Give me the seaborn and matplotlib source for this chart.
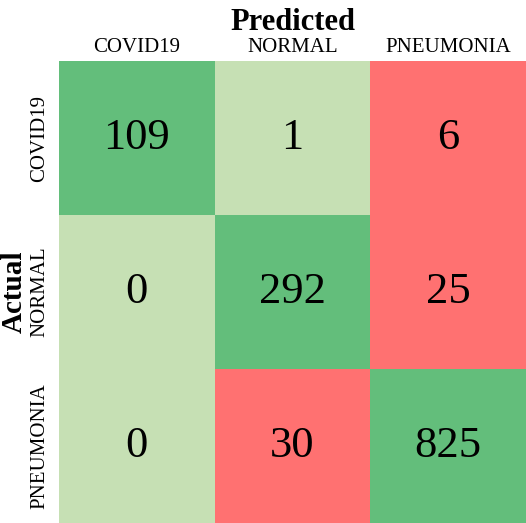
import numpy as np
import seaborn as sns
import matplotlib.pyplot as plt
from matplotlib.colors import ListedColormap

classes = ["COVID19", "NORMAL", "PNEUMONIA"]
covid_row = [109, 1, 6]
normal_row = [0, 292, 25]
pneumonia_row = [0, 30, 825]


def confusion_plot():
    counts = np.array([covid_row, normal_row, pneumonia_row])
    # 0 = negligible miss, 1 = miss, 2 = correct
    shade = np.where(counts <= 1, 0, 1)
    np.fill_diagonal(shade, 2)

    sns.set_theme(style="white")
    plt.rcParams["font.family"] = ["Liberation Serif", "DejaVu Serif"]
    plt.rcParams["text.color"] = "black"
    plt.rcParams["axes.labelcolor"] = "black"
    plt.rcParams["xtick.color"] = "black"
    plt.rcParams["ytick.color"] = "black"
    cmap = ListedColormap(["#C6E0B4", "#FF7171", "#63BE7B"])

    fig = plt.figure(figsize=(5.26, 5.23), dpi=100)
    ax = fig.add_axes([59 / 526, 0, 1 - 59 / 526, 462 / 523])
    sns.heatmap(shade, annot=counts, fmt="d", cmap=cmap, vmin=-0.5, vmax=2.5,
                cbar=False, xticklabels=classes, yticklabels=classes,
                annot_kws={"size": 32, "color": "black"}, ax=ax)

    ax.xaxis.tick_top()
    ax.xaxis.set_label_position("top")
    ax.tick_params(axis="x", length=0, pad=3, labelsize=15)
    ax.tick_params(axis="y", length=0, pad=7, labelsize=15)
    plt.setp(ax.get_yticklabels(), rotation=90, va="center")
    ax.set_xlabel("Predicted", fontsize=22, fontweight="bold", labelpad=6)
    ax.set_ylabel("")
    fig.text(14 / 526, 1 - 292 / 523, "Actual", rotation=90, fontsize=21,
             fontweight="bold", ha="center", va="center")

    fig.savefig("out.png", dpi=100)


if __name__ == "__main__":
    confusion_plot()
